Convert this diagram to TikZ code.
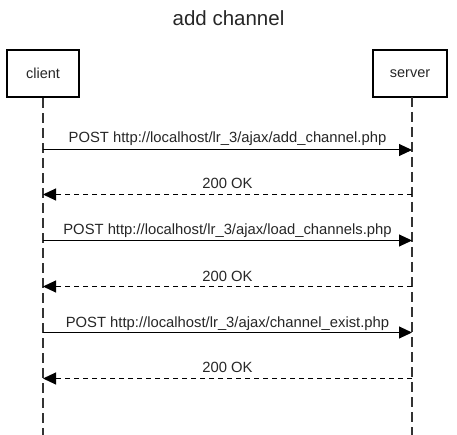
\documentclass[tikz,border=0pt]{standalone}
\usepackage{fontspec}
\setmainfont{Liberation Sans}
\usetikzlibrary{arrows.meta}
\begin{document}
\begin{tikzpicture}[x=1pt,y=-1pt,
  actor/.style={draw=black, line width=2.5pt, minimum width=72pt, minimum height=47pt, inner sep=0pt, font=\fontsize{14.5}{16}\selectfont, text=black!85},
  lifeline/.style={draw=black!80, line width=1.8pt, dash pattern=on 10pt off 5pt},
  req/.style={draw=black, line width=1pt, -{Triangle[length=13pt,width=12pt]}},
  resp/.style={req, dash pattern=on 5pt off 4pt},
  lbl/.style={font=\fontsize{14.8}{16}\selectfont, anchor=base, text=black!85, inner sep=0pt}
]
\useasboundingbox (0,0) rectangle (457,435);
\node[font=\fontsize{20.5}{24}\selectfont, anchor=base, inner sep=0pt, text=black!85] (title) at (228.5,26) {add channel};
\node[actor] (client) at (43,73.5) {client};
\node[actor, minimum width=74pt] (server) at (410,73.5) {server};
\coordinate (cend) at (43,435);
\coordinate (send) at (412,435);
\draw[lifeline] (client.south) -- (cend);
\draw[lifeline] (412,97) -- (send);
\foreach \n/\y in {1/150,2/194.5,3/240.5,4/286.5,5/332.5,6/378.5}{
  \coordinate (c\n) at (43,\y);
  \coordinate (s\n) at (412,\y);
}
\draw[req] (c1) -- (s1);
\node[lbl] (l1) at (227.5,143) {POST http://localhost/lr\_3/ajax/add\_channel.php};
\draw[resp] (s2) -- (c2);
\node[lbl] (l2) at (227.5,189) {200 OK};
\draw[req] (c3) -- (s3);
\node[lbl] (l3) at (227.5,235) {POST http://localhost/lr\_3/ajax/load\_channels.php};
\draw[resp] (s4) -- (c4);
\node[lbl] (l4) at (227.5,281) {200 OK};
\draw[req] (c5) -- (s5);
\node[lbl] (l5) at (227.5,327) {POST http://localhost/lr\_3/ajax/channel\_exist.php};
\draw[resp] (s6) -- (c6);
\node[lbl] (l6) at (227.5,372.5) {200 OK};
\end{tikzpicture}
\end{document}
